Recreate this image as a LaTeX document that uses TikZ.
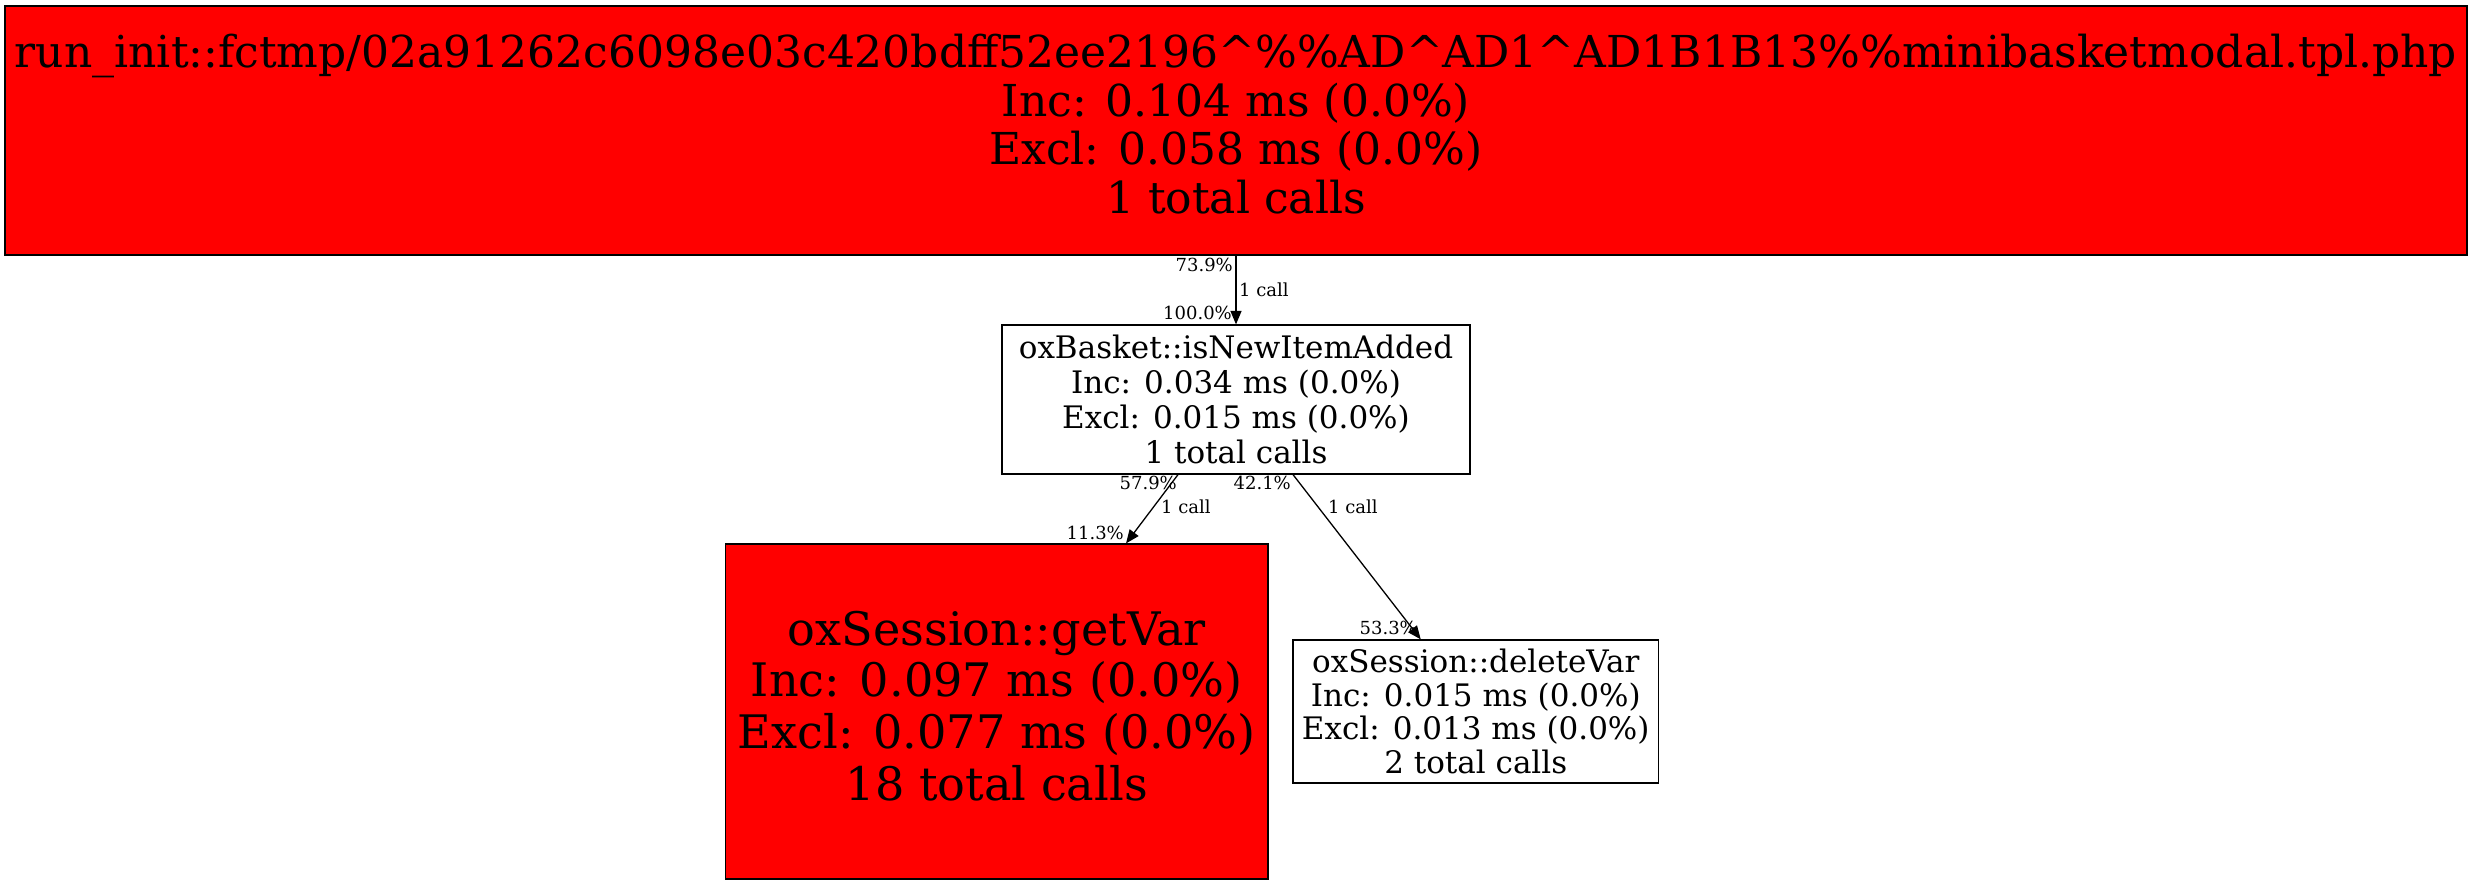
\documentclass[tikz,border=0pt]{standalone}
\usepackage{fontspec}
\setmainfont{DejaVu Serif}
\usetikzlibrary{arrows.meta,calc}
\begin{document}
\begin{tikzpicture}[x=1pt,y=1pt,
  box/.style={draw=black,line width=1.2pt,rectangle,inner sep=0pt,align=center},
  hot/.style={box,fill=red},
  cold/.style={box,fill=white},
  elabel/.style={font=\fontsize{18}{20}\selectfont,inner sep=0pt},
  call/.style={line width=1.3pt,-{Triangle[length=13.5pt,width=11pt]}}]
\useasboundingbox (0,0) rectangle (2472,-885);
\node[hot,minimum width=2462pt,minimum height=249pt,font=\fontsize{44}{48.5}\selectfont] (top) at (1236,-130.5)
  {\rule{0pt}{40pt}run\_init::fctmp/02a91262c6098e03c420bdff52ee2196\textasciicircum\%\%AD\textasciicircum AD1\textasciicircum AD1B1B13\%\%minibasketmodal.tpl.php\\Inc: 0.104 ms (0.0\%)\\Excl: 0.058 ms (0.0\%)\\1 total calls\rule[-19.5pt]{0pt}{19.5pt}};
\node[cold,minimum width=468pt,minimum height=149pt,font=\fontsize{31}{35}\selectfont] (bask) at (1236,-399.5)
  {oxBasket::isNewItemAdded\\Inc: 0.034 ms (0.0\%)\\Excl: 0.015 ms (0.0\%)\\1 total calls};
\node[hot,minimum width=542.5pt,minimum height=335pt,font=\fontsize{46.2}{51.8}\selectfont] (getvar) at (996.75,-711.5)
  {\rule{0pt}{45pt}oxSession::getVar\\Inc: 0.097 ms (0.0\%)\\Excl: 0.077 ms (0.0\%)\\18 total calls\rule[-22.5pt]{0pt}{22.5pt}};
\node[cold,minimum width=365.5pt,minimum height=143pt,font=\fontsize{31}{33.5}\selectfont] (delvar) at (1475.75,-711.5)
  {oxSession::deleteVar\\Inc: 0.015 ms (0.0\%)\\Excl: 0.013 ms (0.0\%)\\2 total calls};
\draw[call] (top.south) -- (bask.north);
\draw[call] ($(bask.south)+(-58,0)$) -- ($(getvar.north)+(129.25,0)$);
\draw[call] ($(bask.south)+(57,0)$) -- ($(delvar.north)+(-55,0)$);
\node[elabel,anchor=east] (l1t) at (1233,-265) {73.9\%};
\node[elabel,anchor=west] (l1c) at (1239,-290) {1 call};
\node[elabel,anchor=east] (l1h) at (1232,-313) {100.0\%};
\node[elabel,anchor=east] (l2t) at (1177,-483) {57.9\%};
\node[elabel,anchor=west] (l2c) at (1161,-507) {1 call};
\node[elabel,anchor=east] (l2h) at (1124,-533) {11.3\%};
\node[elabel,anchor=east] (l3t) at (1291,-483) {42.1\%};
\node[elabel,anchor=west] (l3c) at (1328,-507) {1 call};
\node[elabel,anchor=east] (l3h) at (1417,-628) {53.3\%};
\end{tikzpicture}
\end{document}
